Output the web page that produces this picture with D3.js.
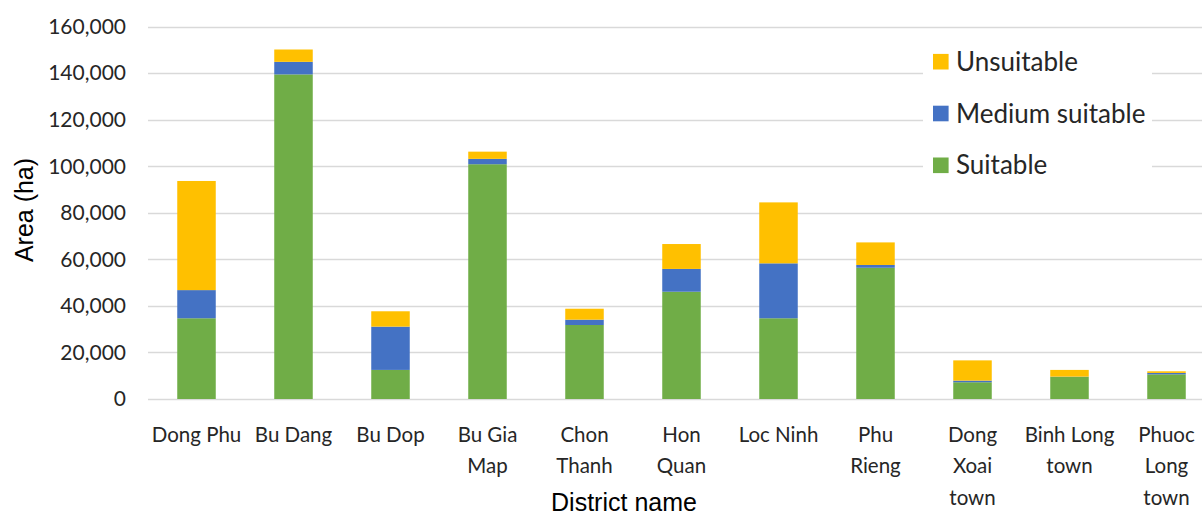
<!DOCTYPE html>
<html>
<head>
<meta charset="utf-8">
<script src="https://cdn.jsdelivr.net/npm/d3@7"></script>
<style>
  html, body { margin: 0; padding: 0; background: #fff; overflow: hidden; }
  svg { display: block; }
</style>
</head>
<body>
<svg id="chart" width="1202" height="517"></svg>
<script>
// District names and their axis label lines
const districts = ["Dong Phu", "Bu Dang", "Bu Dop", "Bu Gia Map", "Chon Thanh", "Hon Quan",
  "Loc Ninh", "Phu Rieng", "Dong Xoai town", "Binh Long town", "Phuoc Long town"];
const districtLabelLines = [["Dong Phu"], ["Bu Dang"], ["Bu Dop"], ["Bu Gia", "Map"], ["Chon", "Thanh"],
  ["Hon", "Quan"], ["Loc Ninh"], ["Phu", "Rieng"], ["Dong", "Xoai", "town"], ["Binh Long", "town"],
  ["Phuoc", "Long", "town"]];

// Area (ha) per suitability class
const suitable       = [34700, 139500, 12500, 100900, 31800, 46100, 34700, 56400, 7200, 9500, 10600];
const mediumSuitable = [12100,   5400, 18600,   2300,  2300,  9800, 23600,  1200,  700,  100,   600];
const unsuitable     = [46900,   5300,  6600,   3100,  4700, 10700, 26200,  9700, 8700, 2900,   700];

const seriesNames = ["Suitable", "Medium suitable", "Unsuitable"];
const legendOrder = ["Unsuitable", "Medium suitable", "Suitable"];
const yTicks = [0, 20000, 40000, 60000, 80000, 100000, 120000, 140000, 160000];

const colors = { "Suitable": "#70AD47", "Medium suitable": "#4472C4", "Unsuitable": "#FFC000" };

const rows = districts.map((d, i) => ({
  district: d,
  "Suitable": suitable[i],
  "Medium suitable": mediumSuitable[i],
  "Unsuitable": unsuitable[i]
}));

const svg = d3.select("#chart");
const font = "Lato, 'Open Sans', sans-serif";

const x = d3.scaleBand().domain(districts).range([148, 1215]).paddingInner(0.603).paddingOuter(0.3015);
const y = d3.scaleLinear().domain([0, 160000]).range([399, 26.7]);

// Horizontal gridlines
svg.append("g")
  .selectAll("line")
  .data(yTicks)
  .join("line")
  .attr("x1", 148).attr("x2", 1215)
  .attr("y1", d => Math.round(y(d)) + 0.5).attr("y2", d => Math.round(y(d)) + 0.5)
  .attr("stroke", "#d9d9d9").attr("stroke-width", 1.3);

// Y axis labels
const yAxis = svg.append("g")
  .attr("transform", "translate(126,0)")
  .call(d3.axisLeft(y).tickValues(yTicks).tickSize(0).tickPadding(0).tickFormat(d3.format(",")));
yAxis.select(".domain").remove();
yAxis.selectAll("text")
  .attr("font-family", font).attr("font-size", 21).attr("fill", "#262626");

// Stacked bars
const stacked = d3.stack().keys(seriesNames)(rows);
svg.append("g")
  .selectAll("g")
  .data(stacked)
  .join("g")
  .attr("fill", s => colors[s.key])
  .selectAll("rect")
  .data(s => s)
  .join("rect")
  .attr("x", d => x(d.data.district))
  .attr("width", x.bandwidth())
  .attr("y", d => y(d[1]))
  .attr("height", d => y(d[0]) - y(d[1]));

// Category labels (wrapped over several lines)
const xAxis = svg.append("g")
  .attr("transform", "translate(0,399)")
  .call(d3.axisBottom(x).tickSize(0).tickFormat(""));
xAxis.select(".domain").remove();
xAxis.selectAll(".tick").each(function(d, i) {
  const t = d3.select(this).append("text")
    .attr("font-family", font).attr("font-size", 20.5).attr("fill", "#262626")
    .attr("text-anchor", "middle");
  districtLabelLines[i].forEach((line, k) => {
    t.append("tspan").attr("x", 0).attr("y", 42.5 + k * 31.7).text(line);
  });
});

// Axis titles
svg.append("text")
  .attr("transform", "translate(33,210) rotate(-90)")
  .attr("text-anchor", "middle")
  .attr("font-family", "'Liberation Sans', Arial, sans-serif").attr("font-size", 25)
  .attr("fill", "#000").text("Area (ha)");

svg.append("text")
  .attr("x", 624).attr("y", 511)
  .attr("text-anchor", "middle")
  .attr("font-family", "'Liberation Sans', Arial, sans-serif").attr("font-size", 25)
  .attr("fill", "#000").text("District name");

// Legend
const legend = svg.append("g");
legend.append("rect")
  .attr("x", 923).attr("y", 38).attr("width", 229).attr("height", 152)
  .attr("fill", "#fff");
const items = legend.selectAll("g.item")
  .data(legendOrder)
  .join("g")
  .attr("class", "item")
  .attr("transform", (d, i) => `translate(933,${61.7 + i * 51.8})`);
items.append("rect")
  .attr("x", 0).attr("y", -7.8).attr("width", 15.6).attr("height", 15.6)
  .attr("fill", d => colors[d]);
items.append("text")
  .attr("x", 23).attr("y", 0).attr("dy", "0.35em")
  .attr("font-family", font).attr("font-size", 26).attr("fill", "#262626")
  .text(d => d);
</script>
</body>
</html>
